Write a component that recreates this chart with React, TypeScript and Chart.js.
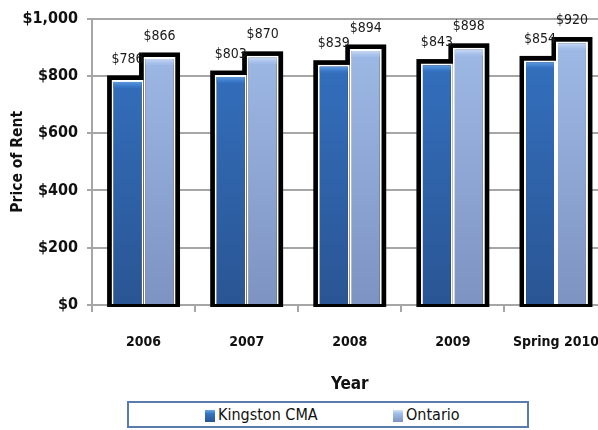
import React, { useEffect, useRef } from "react";
import { Chart, registerables } from "chart.js";
Chart.register(...registerables);

const categories = ["2006", "2007", "2008", "2009", "Spring 2010"];
const kingston = [786, 803, 839, 843, 854];
const ontario = [866, 870, 894, 898, 920];
const yTicks = [0, 200, 400, 600, 800, 1000];
const seriesNames = ["Kingston CMA", "Ontario"];

const FONT = "'Liberation Sans Narrow', 'DejaVu Sans Condensed', 'Open Sans', sans-serif";
const GRID = "#A6A6A6";

const palette = [
  { top: "#3574C4", bottom: "#2A5594", bevel: "#6AA6E8" },
  { top: "#A2BDE9", bottom: "#7D93C2", bevel: "#D3E2F8" },
];

function grad(chart: any, i: number) {
  const area = chart.chartArea;
  if (!area) return palette[i].top;
  const g = chart.ctx.createLinearGradient(0, area.top, 0, area.bottom);
  g.addColorStop(0, palette[i].top);
  g.addColorStop(1, palette[i].bottom);
  return g;
}

const framePlugin = {
  id: "frame",
  beforeDatasetsDraw(chart: any) {
    const ctx = chart.ctx;
    ctx.save();
    ctx.fillStyle = "#000";
    chart.data.datasets.forEach((_: any, di: number) => {
      const meta = chart.getDatasetMeta(di);
      meta.data.forEach((bar: any) => {
        const { x, y, base, width } = bar.getProps(["x", "y", "base", "width"], true);
        ctx.fillRect(x - width / 2 - 4.5, y - 4.5, width + 9, base - y + 7.5);
      });
    });
    ctx.restore();
  },
  afterDatasetsDraw(chart: any) {
    const ctx = chart.ctx;
    ctx.save();
    chart.data.datasets.forEach((ds: any, di: number) => {
      const meta = chart.getDatasetMeta(di);
      meta.data.forEach((bar: any, i: number) => {
        const { x, y, width } = bar.getProps(["x", "y", "width"], true);
        const g = ctx.createLinearGradient(0, y, 0, y + 7);
        g.addColorStop(0, palette[di].bevel);
        g.addColorStop(1, palette[di].top);
        ctx.fillStyle = g;
        ctx.fillRect(x - width / 2 + 2, y + 2, width - 4, 6);
        ctx.fillStyle = "#1a1a1a";
        ctx.font = "14px " + FONT;
        ctx.textAlign = "center";
        ctx.textBaseline = "middle";
        ctx.fillText("$" + ds.data[i], x, y - 21);
      });
    });
    ctx.restore();
  },
};

export default function App() {
  const ref = useRef<HTMLCanvasElement | null>(null);
  useEffect(() => {
    if (!ref.current) return;
    const chart = new Chart(ref.current, {
      type: "bar",
      data: {
        labels: categories,
        datasets: [
          {
            label: seriesNames[0],
            data: kingston,
            backgroundColor: (c: any) => grad(c.chart, 0),
            borderColor: "#FFFFFF",
            borderWidth: 2,
            categoryPercentage: 0.62,
            barPercentage: 1.0,
          },
          {
            label: seriesNames[1],
            data: ontario,
            backgroundColor: (c: any) => grad(c.chart, 1),
            borderColor: "#FFFFFF",
            borderWidth: 2,
            categoryPercentage: 0.62,
            barPercentage: 1.0,
          },
        ],
      },
      options: {
        responsive: false,
        animation: false,
        devicePixelRatio: 1,
        layout: { padding: { top: 13, bottom: 33, left: 0, right: 0 } },
        plugins: { legend: { display: false }, tooltip: { enabled: false } },
        scales: {
          x: {
            grid: { drawOnChartArea: false, drawTicks: true, tickLength: 7, color: GRID, lineWidth: 2 },
            border: { color: GRID, width: 2 },
            ticks: { color: "#111", font: { family: FONT, size: 14, weight: "bold" }, padding: 22, maxRotation: 0 },
            title: { display: true, text: "Year", color: "#111", font: { family: FONT, size: 17, weight: "bold" }, padding: { top: 0, bottom: 2 } },
            afterFit: (s: any) => { s.height = 92; },
          },
          y: {
            min: 0,
            max: 1000,
            afterBuildTicks: (s: any) => { s.ticks = yTicks.map((v) => ({ value: v })); },
            grid: { color: GRID, lineWidth: 2, tickLength: 5 },
            border: { color: GRID, width: 2 },
            ticks: {
              color: "#111",
              font: { family: FONT, size: 16, weight: "bold" },
              padding: 9,
              callback: (v: any) => "$" + Number(v).toLocaleString("en-US"),
            },
            title: { display: true, text: "Price of Rent", color: "#111", font: { family: FONT, size: 15.5, weight: "bold" }, padding: { top: 9, bottom: 0 } },
            afterFit: (s: any) => { s.width = 92; },
          },
        },
      },
      plugins: [framePlugin],
    } as any);
    return () => chart.destroy();
  }, []);

  const sw = (i: number) => ({
    display: "inline-block",
    width: 10,
    height: 12,
    background: `linear-gradient(${palette[i].bevel}, ${palette[i].top} 30%, ${palette[i].bottom})`,
    marginRight: 3,
    verticalAlign: "middle",
  });

  return (
    <div style={{ position: "fixed", left: 0, top: 0, width: 598, height: 430, overflow: "hidden", background: "#fff" }}>
      <canvas ref={ref} width={621} height={430} style={{ width: 621, height: 430, display: "block" }} />
      <div
        style={{
          position: "absolute",
          left: 127,
          top: 401,
          width: 402,
          height: 27,
          boxSizing: "border-box",
          border: "2px solid #5A7BAE",
          background: "#fff",
          fontFamily: FONT,
          fontSize: 16,
          color: "#111",
          lineHeight: "23px",
        }}
      >
        <span style={{ position: "absolute", left: 76, top: 0, whiteSpace: "nowrap" }}>
          <span style={sw(0)} />
          {seriesNames[0]}
        </span>
        <span style={{ position: "absolute", left: 264, top: 0, whiteSpace: "nowrap" }}>
          <span style={sw(1)} />
          {seriesNames[1]}
        </span>
      </div>
    </div>
  );
}
